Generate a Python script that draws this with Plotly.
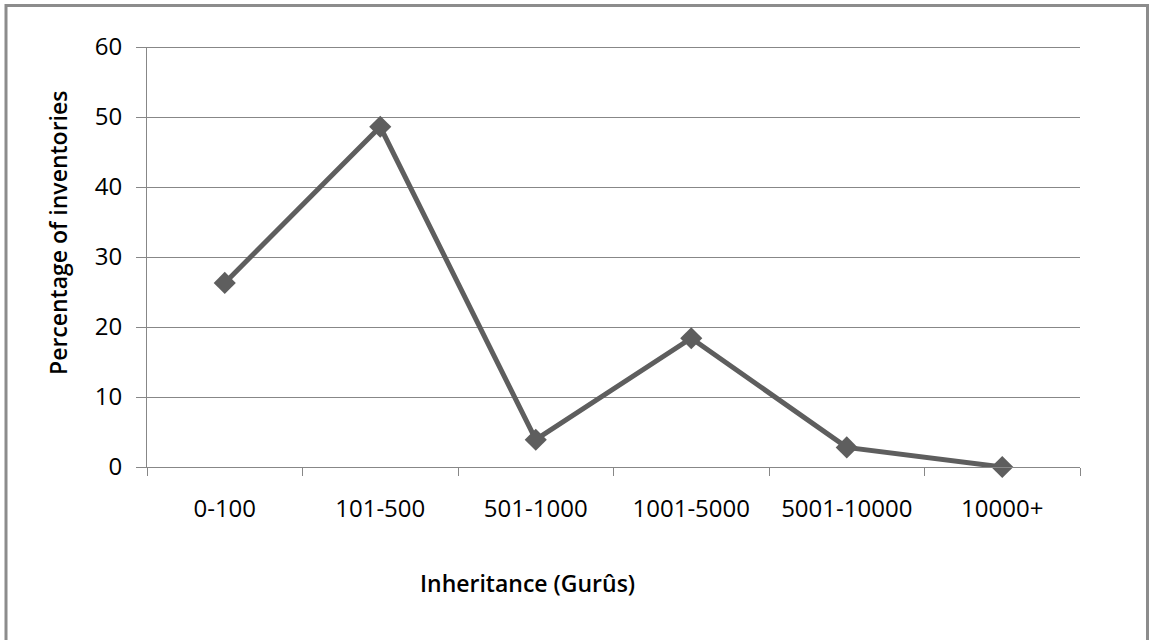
import plotly.graph_objects as go

categories = ["0-100", "101-500", "501-1000", "1001-5000", "5001-10000", "10000+"]
percentages = [26.3, 48.6, 3.9, 18.4, 2.8, 0.0]
y_ticks = [0, 10, 20, 30, 40, 50, 60]

FONT = "Open Sans"
GRID = "#878787"
LINE = "#5e5e5e"

W, H = 1150, 640
L, R, T, B = 147, 70, 47, 173
PW, PH = W - L - R, H - T - B


def px(x):
    return (x - L) / PW


def py(y):
    return (H - B - y) / PH


fig = go.Figure()
fig.add_trace(go.Scatter(
    x=categories, y=percentages, mode="lines+markers",
    line=dict(color=LINE, width=5),
    marker=dict(symbol="diamond", size=17, color=LINE),
    showlegend=False, cliponaxis=False,
))

fig.update_layout(
    width=W, height=H,
    margin=dict(l=L, r=R, t=T, b=B, pad=0),
    paper_bgcolor="white", plot_bgcolor="white",
    font=dict(family=FONT, size=24, color="#000000"),
    xaxis=dict(
        type="category", showgrid=False, tickson="boundaries",
        ticks="outside", ticklen=8, tickcolor=GRID, tickwidth=1,
        showline=True, linecolor=GRID, linewidth=1,
        tickfont=dict(family=FONT, size=24, color="#000"),
        ticklabelstandoff=20,
        range=[-0.5, 5.5], zeroline=False,
    ),
    yaxis=dict(
        range=[0, 60], tickvals=y_ticks, showgrid=True, gridcolor=GRID, gridwidth=1,
        ticks="outside", ticklen=10, tickcolor=GRID, tickwidth=1,
        showline=True, linecolor=GRID, linewidth=1, zeroline=False,
        tickfont=dict(family=FONT, size=24, color="#000"),
        ticklabelstandoff=9,
    ),
    shapes=[
        dict(type="rect", xref="paper", yref="paper",
             x0=px(6), x1=px(1147.5), y0=py(646), y1=py(5.5),
             line=dict(color="#8c8c8c", width=3), fillcolor="rgba(0,0,0,0)", layer="below"),
        dict(type="line", xref="paper", yref="y", x0=px(137), x1=1, y0=60, y1=60,
             line=dict(color=GRID, width=2)),
    ],
    annotations=[
        dict(text="Percentage of inventories", xref="paper", yref="paper",
             x=px(58), y=py(233), textangle=-90, showarrow=False,
             xanchor="center", yanchor="middle",
             font=dict(family=FONT, size=23, color="#000", weight=600)),
        dict(text="Inheritance (Gurûs)", xref="paper", yref="paper",
             x=px(527), y=py(583), showarrow=False,
             xanchor="center", yanchor="middle",
             font=dict(family=FONT, size=23, color="#000", weight=600)),
    ],
)

fig.write_html("out.html")
